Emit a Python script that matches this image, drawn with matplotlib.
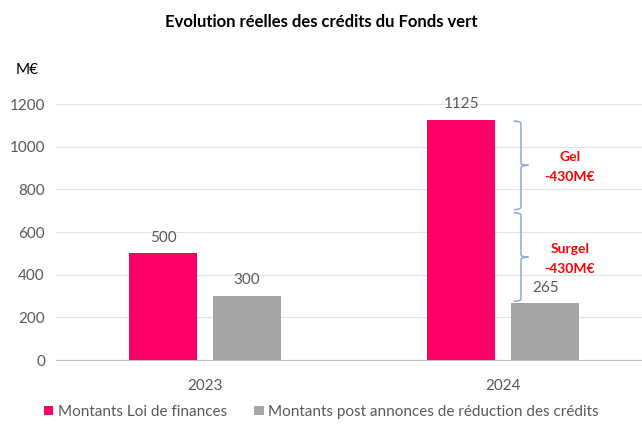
import numpy as np
import matplotlib.pyplot as plt
from matplotlib.path import Path
from matplotlib.patches import PathPatch

# -- données --
years = ["2023", "2024"]
loi_finances = [500, 1125]
post_annonces = [300, 265]
coupes = [("Gel", 430), ("Surgel", 430)]

PINK = "#FF0066"
GREY = "#A5A5A5"
TXT = "#595959"
BRACE = "#8EAADB"
RED = "#FF0000"

plt.rcParams["font.family"] = ["Lato", "DejaVu Sans"]

fig = plt.figure(figsize=(6.42, 4.25), dpi=100)
ax = fig.add_axes([56 / 642, 65 / 425, 586 / 642, 256 / 425])

x = np.arange(len(years))
off, w = 0.141, 0.226
b1 = ax.bar(x - off, loi_finances, w, color=PINK, label="Montants Loi de finances", zorder=3)
b2 = ax.bar(x + off, post_annonces, w, color=GREY,
            label="Montants post annonces de réduction des crédits", zorder=3)

for bars in (b1, b2):
    for r in bars:
        ax.text(r.get_x() + r.get_width() / 2, r.get_height() + 40, f"{r.get_height():.0f}",
                ha="center", va="bottom", fontsize=11, color=TXT)

ax.set_xlim(-0.5, 1.466)
ax.set_ylim(0, 1200)
ax.set_yticks(range(0, 1201, 200))
ax.set_xticks(x, years)
ax.grid(axis="y", color="#E3E3E3", lw=0.8, zorder=0)
for s in ("top", "right", "left"):
    ax.spines[s].set_visible(False)
ax.spines["bottom"].set_color("#BFBFBF")
ax.tick_params(length=0, labelsize=11, colors=TXT, pad=8)
ax.tick_params(axis="x", pad=14)


def brace(ax, x0, y_top, y_bot, wid):
    ym = (y_top + y_bot) / 2
    h = 12
    xm = x0 + wid / 2
    verts = [(x0, y_top), (xm, y_top), (xm, y_top - h),
             (xm, ym + h), (xm, ym), (x0 + wid, ym),
             (xm, ym), (xm, ym - h),
             (xm, y_bot + h), (xm, y_bot), (x0, y_bot)]
    codes = [Path.MOVETO, Path.CURVE3, Path.CURVE3,
             Path.LINETO, Path.CURVE3, Path.CURVE3,
             Path.CURVE3, Path.CURVE3,
             Path.LINETO, Path.CURVE3, Path.CURVE3]
    ax.add_patch(PathPatch(Path(verts, codes), fc="none", ec=BRACE, lw=1.1, zorder=4))


top = loi_finances[1]
for name, val in coupes:
    bot = top - val
    brace(ax, 1.035, top - 5, bot + 10, 0.05)
    ym = (top + bot) / 2
    ax.text(1.224, ym + 40, name, ha="center", va="center", color=RED,
            fontsize=10, fontweight="bold")
    ax.text(1.224, ym - 52, f"-{val}M€", ha="center", va="center", color=RED,
            fontsize=10, fontweight="bold")
    top = bot

fig.text(0.5, 1 - 22 / 425, "Evolution réelles des crédits du Fonds vert", ha="center",
         va="center", fontsize=12, fontweight="bold", color="black")
fig.text(16 / 642, 1 - 70 / 425, "M€", ha="left", va="center", fontsize=11, color="black")

fig.legend(loc="center left", bbox_to_anchor=(38 / 642, 1 - 412 / 425), ncol=2, frameon=False,
           fontsize=11, handlelength=0.6, handleheight=0.6, handletextpad=0.3,
           columnspacing=1.8, labelcolor=TXT, borderaxespad=0)

fig.savefig("out.png", dpi=100)
